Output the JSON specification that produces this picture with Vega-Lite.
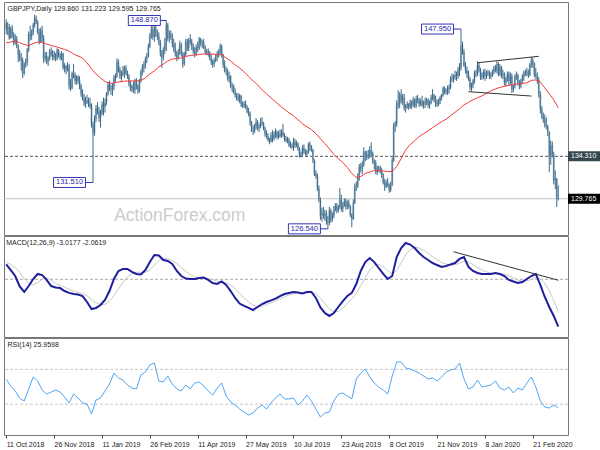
{
"$schema":"https://vega.github.io/schema/vega-lite/v6.json",
"padding":{"left":1,"top":1,"right":0,"bottom":0},
"background":"white",
"spacing":1,
"bounds":"flush",
"resolve":{"scale":{"x":"shared"}},
"config":{"view":{"stroke":"#777"},"font":"Liberation Sans",
"axis":{"labelFont":"Liberation Sans","labelFontSize":7,"labelColor":"#222","tickColor":"#444","tickSize":3,"domain":false,"grid":false,"labelPadding":1},
"title":{"anchor":"start","offset":-10,"baseline":"top","dx":4,"fontSize":7,"fontWeight":"normal","color":"#222","font":"Liberation Sans"}},
"datasets":{
"px":[
{"d":"2018-10-11","o":148.6,"h":149.0,"l":147.4,"c":147.9},{"d":"2018-10-12","o":147.9,"h":148.7,"l":147.3,"c":148.2},
{"d":"2018-10-15","o":148.2,"h":148.5,"l":146.8,"c":147.0},{"d":"2018-10-16","o":147.0,"h":148.2,"l":146.9,"c":148.0},{"d":"2018-10-17","o":148.0,"h":148.4,"l":147.0,"c":147.3},{"d":"2018-10-18","o":147.3,"h":147.6,"l":146.2,"c":146.5},{"d":"2018-10-19","o":146.5,"h":147.4,"l":146.3,"c":146.9},
{"d":"2018-10-22","o":146.9,"h":147.2,"l":145.9,"c":146.1},{"d":"2018-10-23","o":146.1,"h":146.3,"l":144.4,"c":145.2},{"d":"2018-10-24","o":145.2,"h":145.7,"l":144.5,"c":144.8},{"d":"2018-10-25","o":144.8,"h":145.4,"l":143.5,"c":144.6},{"d":"2018-10-26","o":144.6,"h":144.9,"l":142.7,"c":143.2},
{"d":"2018-10-29","o":143.2,"h":144.4,"l":143.0,"c":144.2},{"d":"2018-10-30","o":144.2,"h":144.8,"l":143.8,"c":144.3},{"d":"2018-10-31","o":144.3,"h":145.9,"l":144.0,"c":145.7},{"d":"2018-11-01","o":145.7,"h":147.7,"l":145.5,"c":147.4},{"d":"2018-11-02","o":147.4,"h":148.3,"l":146.7,"c":147.2},
{"d":"2018-11-05","o":147.2,"h":147.9,"l":146.8,"c":147.6},{"d":"2018-11-06","o":147.6,"h":148.6,"l":147.3,"c":148.4},{"d":"2018-11-07","o":148.4,"h":149.5,"l":148.1,"c":149.1},{"d":"2018-11-08","o":149.1,"h":149.4,"l":148.5,"c":148.7},{"d":"2018-11-09","o":148.7,"h":148.9,"l":147.4,"c":147.6},
{"d":"2018-11-12","o":147.6,"h":148.0,"l":146.3,"c":146.6},{"d":"2018-11-13","o":146.6,"h":148.1,"l":146.5,"c":147.8},{"d":"2018-11-14","o":147.8,"h":148.3,"l":146.6,"c":147.0},{"d":"2018-11-15","o":147.0,"h":147.3,"l":144.3,"c":144.8},{"d":"2018-11-16","o":144.8,"h":145.5,"l":144.5,"c":145.1},
{"d":"2018-11-19","o":145.1,"h":145.5,"l":144.2,"c":144.4},{"d":"2018-11-20","o":144.4,"h":145.0,"l":144.0,"c":144.7},{"d":"2018-11-21","o":144.7,"h":145.8,"l":144.6,"c":145.6},{"d":"2018-11-22","o":145.6,"h":146.0,"l":145.0,"c":145.3},{"d":"2018-11-23","o":145.3,"h":145.7,"l":144.6,"c":144.9},
{"d":"2018-11-26","o":144.9,"h":145.6,"l":144.6,"c":145.2},{"d":"2018-11-27","o":145.2,"h":145.4,"l":144.5,"c":144.8},{"d":"2018-11-28","o":144.8,"h":145.9,"l":144.6,"c":145.7},{"d":"2018-11-29","o":145.7,"h":145.8,"l":144.9,"c":145.1},{"d":"2018-11-30","o":145.1,"h":145.4,"l":144.6,"c":144.8},
{"d":"2018-12-03","o":144.8,"h":145.6,"l":144.6,"c":145.3},{"d":"2018-12-04","o":145.3,"h":145.4,"l":143.6,"c":143.8},{"d":"2018-12-05","o":143.8,"h":144.3,"l":143.3,"c":144.0},{"d":"2018-12-06","o":144.0,"h":144.1,"l":143.1,"c":143.6},{"d":"2018-12-07","o":143.6,"h":144.4,"l":143.4,"c":144.0},
{"d":"2018-12-10","o":144.0,"h":144.2,"l":141.5,"c":141.9},{"d":"2018-12-11","o":141.9,"h":142.6,"l":141.3,"c":141.6},{"d":"2018-12-12","o":141.6,"h":143.4,"l":141.5,"c":143.2},{"d":"2018-12-13","o":143.2,"h":144.2,"l":142.7,"c":143.0},{"d":"2018-12-14","o":143.0,"h":143.3,"l":142.0,"c":142.4},
{"d":"2018-12-17","o":142.4,"h":143.0,"l":142.0,"c":142.8},{"d":"2018-12-18","o":142.8,"h":143.0,"l":142.1,"c":142.4},{"d":"2018-12-19","o":142.4,"h":142.9,"l":141.5,"c":141.9},{"d":"2018-12-20","o":141.9,"h":142.1,"l":140.7,"c":141.0},{"d":"2018-12-21","o":141.0,"h":141.5,"l":140.3,"c":140.5},
{"d":"2018-12-24","o":140.5,"h":141.0,"l":139.7,"c":140.0},{"d":"2018-12-26","o":140.0,"h":140.7,"l":139.5,"c":140.3},{"d":"2018-12-27","o":140.3,"h":140.9,"l":139.9,"c":140.1},{"d":"2018-12-28","o":140.1,"h":140.6,"l":139.6,"c":139.9},
{"d":"2018-12-31","o":139.9,"h":140.6,"l":139.4,"c":139.7},{"d":"2019-01-02","o":139.7,"h":140.0,"l":137.4,"c":137.7},{"d":"2019-01-03","o":137.7,"h":138.0,"l":131.51,"c":136.8},{"d":"2019-01-04","o":136.8,"h":138.7,"l":136.5,"c":138.3},
{"d":"2019-01-07","o":138.3,"h":139.8,"l":138.0,"c":139.5},{"d":"2019-01-08","o":139.5,"h":140.1,"l":138.8,"c":139.1},{"d":"2019-01-09","o":139.1,"h":139.6,"l":138.0,"c":138.4},{"d":"2019-01-10","o":138.4,"h":139.3,"l":137.4,"c":138.9},{"d":"2019-01-11","o":138.9,"h":140.2,"l":138.7,"c":139.9},
{"d":"2019-01-14","o":139.9,"h":140.6,"l":138.7,"c":139.6},{"d":"2019-01-15","o":139.6,"h":140.5,"l":139.0,"c":140.1},{"d":"2019-01-16","o":140.1,"h":141.2,"l":139.8,"c":141.0},{"d":"2019-01-17","o":141.0,"h":142.3,"l":140.8,"c":142.0},{"d":"2019-01-18","o":142.0,"h":142.4,"l":141.3,"c":141.6},
{"d":"2019-01-21","o":141.6,"h":142.0,"l":140.9,"c":141.5},{"d":"2019-01-22","o":141.5,"h":142.1,"l":140.8,"c":141.8},{"d":"2019-01-23","o":141.8,"h":143.0,"l":141.4,"c":142.7},{"d":"2019-01-24","o":142.7,"h":143.2,"l":142.3,"c":142.9},{"d":"2019-01-25","o":142.9,"h":144.8,"l":142.7,"c":144.4},
{"d":"2019-01-28","o":144.4,"h":144.7,"l":143.3,"c":143.6},{"d":"2019-01-29","o":143.6,"h":143.9,"l":142.6,"c":142.8},{"d":"2019-01-30","o":142.8,"h":143.5,"l":142.4,"c":143.3},{"d":"2019-01-31","o":143.3,"h":144.0,"l":142.9,"c":143.1},{"d":"2019-02-01","o":143.1,"h":144.0,"l":142.7,"c":143.8},
{"d":"2019-02-04","o":143.8,"h":144.1,"l":143.0,"c":143.2},{"d":"2019-02-05","o":143.2,"h":143.5,"l":142.6,"c":142.9},{"d":"2019-02-06","o":142.9,"h":143.1,"l":141.8,"c":142.1},{"d":"2019-02-07","o":142.1,"h":142.4,"l":141.3,"c":141.6},{"d":"2019-02-08","o":141.6,"h":142.0,"l":141.2,"c":141.8},
{"d":"2019-02-11","o":141.8,"h":142.3,"l":141.1,"c":141.4},{"d":"2019-02-12","o":141.4,"h":142.6,"l":141.0,"c":142.4},{"d":"2019-02-13","o":142.4,"h":142.7,"l":141.5,"c":141.9},{"d":"2019-02-14","o":141.9,"h":142.0,"l":141.0,"c":141.3},{"d":"2019-02-15","o":141.3,"h":142.6,"l":141.1,"c":142.4},
{"d":"2019-02-18","o":142.4,"h":143.6,"l":142.2,"c":143.4},{"d":"2019-02-19","o":143.4,"h":144.2,"l":143.0,"c":143.9},{"d":"2019-02-20","o":143.9,"h":144.5,"l":143.3,"c":144.1},{"d":"2019-02-21","o":144.1,"h":145.0,"l":143.7,"c":144.7},{"d":"2019-02-22","o":144.7,"h":145.4,"l":144.3,"c":145.0},
{"d":"2019-02-25","o":145.0,"h":146.4,"l":144.9,"c":146.1},{"d":"2019-02-26","o":146.1,"h":147.5,"l":145.9,"c":147.3},{"d":"2019-02-27","o":147.3,"h":148.3,"l":146.9,"c":147.9},{"d":"2019-02-28","o":147.9,"h":148.3,"l":146.8,"c":147.1},{"d":"2019-03-01","o":147.1,"h":148.4,"l":146.6,"c":148.0},
{"d":"2019-03-04","o":148.0,"h":148.3,"l":147.1,"c":147.5},{"d":"2019-03-05","o":147.5,"h":147.9,"l":146.8,"c":147.2},{"d":"2019-03-06","o":147.2,"h":147.6,"l":146.2,"c":146.5},{"d":"2019-03-07","o":146.5,"h":146.8,"l":145.0,"c":145.4},{"d":"2019-03-08","o":145.4,"h":145.7,"l":143.8,"c":144.9},
{"d":"2019-03-11","o":144.9,"h":146.0,"l":144.6,"c":145.7},{"d":"2019-03-12","o":145.7,"h":147.0,"l":145.3,"c":146.5},{"d":"2019-03-13","o":146.5,"h":148.87,"l":145.6,"c":148.4},{"d":"2019-03-14","o":148.4,"h":148.6,"l":146.7,"c":147.0},{"d":"2019-03-15","o":147.0,"h":147.8,"l":146.5,"c":147.4},
{"d":"2019-03-18","o":147.4,"h":147.8,"l":146.8,"c":147.2},{"d":"2019-03-19","o":147.2,"h":147.5,"l":146.0,"c":146.4},{"d":"2019-03-20","o":146.4,"h":146.9,"l":145.5,"c":145.8},{"d":"2019-03-21","o":145.8,"h":146.5,"l":145.0,"c":145.3},{"d":"2019-03-22","o":145.3,"h":145.6,"l":144.5,"c":144.9},
{"d":"2019-03-25","o":144.9,"h":145.8,"l":144.7,"c":145.4},{"d":"2019-03-26","o":145.4,"h":146.7,"l":145.2,"c":146.3},{"d":"2019-03-27","o":146.3,"h":146.5,"l":145.0,"c":145.3},{"d":"2019-03-28","o":145.3,"h":145.5,"l":143.8,"c":144.2},{"d":"2019-03-29","o":144.2,"h":145.5,"l":144.0,"c":145.2},
{"d":"2019-04-01","o":145.2,"h":146.9,"l":145.0,"c":146.6},{"d":"2019-04-02","o":146.6,"h":146.9,"l":145.6,"c":145.9},{"d":"2019-04-03","o":145.9,"h":147.0,"l":145.6,"c":146.8},{"d":"2019-04-04","o":146.8,"h":147.4,"l":146.3,"c":146.6},{"d":"2019-04-05","o":146.6,"h":146.9,"l":145.7,"c":146.1},
{"d":"2019-04-08","o":146.1,"h":146.4,"l":145.3,"c":145.6},{"d":"2019-04-09","o":145.6,"h":146.0,"l":144.9,"c":145.3},{"d":"2019-04-10","o":145.3,"h":146.3,"l":145.1,"c":146.0},{"d":"2019-04-11","o":146.0,"h":146.6,"l":145.5,"c":145.9},{"d":"2019-04-12","o":145.9,"h":147.1,"l":145.7,"c":146.9},
{"d":"2019-04-15","o":146.9,"h":147.0,"l":146.1,"c":146.4},{"d":"2019-04-16","o":146.4,"h":146.8,"l":145.9,"c":146.5},{"d":"2019-04-17","o":146.5,"h":146.9,"l":145.8,"c":146.0},{"d":"2019-04-18","o":146.0,"h":146.2,"l":145.2,"c":145.5},{"d":"2019-04-19","o":145.5,"h":145.8,"l":145.2,"c":145.6},
{"d":"2019-04-22","o":145.6,"h":145.9,"l":145.0,"c":145.2},{"d":"2019-04-23","o":145.2,"h":145.6,"l":144.6,"c":144.9},{"d":"2019-04-24","o":144.9,"h":145.3,"l":144.1,"c":144.4},{"d":"2019-04-25","o":144.4,"h":144.7,"l":143.8,"c":144.2},{"d":"2019-04-26","o":144.2,"h":144.8,"l":143.9,"c":144.6},
{"d":"2019-04-29","o":144.6,"h":145.2,"l":144.4,"c":145.0},{"d":"2019-04-30","o":145.0,"h":145.6,"l":144.5,"c":145.3},{"d":"2019-05-01","o":145.3,"h":145.8,"l":144.9,"c":145.5},{"d":"2019-05-02","o":145.5,"h":146.4,"l":145.2,"c":146.1},{"d":"2019-05-03","o":146.1,"h":146.3,"l":144.9,"c":145.2},
{"d":"2019-05-06","o":145.2,"h":145.3,"l":143.8,"c":144.1},{"d":"2019-05-07","o":144.1,"h":144.6,"l":143.3,"c":143.5},{"d":"2019-05-08","o":143.5,"h":143.9,"l":143.0,"c":143.4},{"d":"2019-05-09","o":143.4,"h":143.7,"l":142.4,"c":142.6},{"d":"2019-05-10","o":142.6,"h":143.4,"l":142.2,"c":142.9},
{"d":"2019-05-13","o":142.9,"h":143.0,"l":141.6,"c":141.8},{"d":"2019-05-14","o":141.8,"h":142.2,"l":141.2,"c":141.9},{"d":"2019-05-15","o":141.9,"h":142.0,"l":141.0,"c":141.2},{"d":"2019-05-16","o":141.2,"h":141.6,"l":140.6,"c":140.9},{"d":"2019-05-17","o":140.9,"h":141.1,"l":140.3,"c":140.6},
{"d":"2019-05-20","o":140.6,"h":141.1,"l":140.2,"c":140.4},{"d":"2019-05-21","o":140.4,"h":141.0,"l":140.0,"c":140.8},{"d":"2019-05-22","o":140.8,"h":140.9,"l":139.6,"c":139.9},{"d":"2019-05-23","o":139.9,"h":140.2,"l":139.5,"c":139.7},{"d":"2019-05-24","o":139.7,"h":140.2,"l":139.5,"c":139.9},
{"d":"2019-05-27","o":139.9,"h":140.3,"l":139.4,"c":139.6},{"d":"2019-05-28","o":139.6,"h":139.8,"l":138.9,"c":139.1},{"d":"2019-05-29","o":139.1,"h":139.5,"l":138.6,"c":138.9},{"d":"2019-05-30","o":138.9,"h":139.1,"l":137.6,"c":137.9},{"d":"2019-05-31","o":137.9,"h":138.1,"l":136.9,"c":137.1},
{"d":"2019-06-03","o":137.1,"h":137.6,"l":136.6,"c":137.0},{"d":"2019-06-04","o":137.0,"h":137.8,"l":136.8,"c":137.5},{"d":"2019-06-05","o":137.5,"h":138.4,"l":137.2,"c":138.0},{"d":"2019-06-06","o":138.0,"h":138.2,"l":137.1,"c":137.4},{"d":"2019-06-07","o":137.4,"h":137.8,"l":136.9,"c":137.5},
{"d":"2019-06-10","o":137.5,"h":138.4,"l":137.3,"c":138.0},{"d":"2019-06-11","o":138.0,"h":138.5,"l":137.6,"c":137.9},{"d":"2019-06-12","o":137.9,"h":138.0,"l":137.1,"c":137.3},{"d":"2019-06-13","o":137.3,"h":137.5,"l":136.4,"c":136.7},{"d":"2019-06-14","o":136.7,"h":137.1,"l":136.2,"c":136.5},
{"d":"2019-06-17","o":136.5,"h":136.8,"l":135.9,"c":136.0},{"d":"2019-06-18","o":136.0,"h":136.3,"l":135.6,"c":135.9},{"d":"2019-06-19","o":135.9,"h":136.9,"l":135.8,"c":136.6},{"d":"2019-06-20","o":136.6,"h":137.1,"l":135.8,"c":136.2},{"d":"2019-06-21","o":136.2,"h":137.0,"l":136.0,"c":136.7},
{"d":"2019-06-24","o":136.7,"h":137.3,"l":136.3,"c":136.9},{"d":"2019-06-25","o":136.9,"h":137.1,"l":136.1,"c":136.4},{"d":"2019-06-26","o":136.4,"h":137.0,"l":136.2,"c":136.7},{"d":"2019-06-27","o":136.7,"h":137.2,"l":136.3,"c":136.5},{"d":"2019-06-28","o":136.5,"h":137.2,"l":136.3,"c":136.9},
{"d":"2019-07-01","o":136.9,"h":137.8,"l":136.4,"c":136.6},{"d":"2019-07-02","o":136.6,"h":136.8,"l":135.9,"c":136.2},{"d":"2019-07-03","o":136.2,"h":136.5,"l":135.8,"c":136.0},{"d":"2019-07-04","o":136.0,"h":136.4,"l":135.7,"c":136.1},{"d":"2019-07-05","o":136.1,"h":136.3,"l":135.3,"c":135.5},
{"d":"2019-07-08","o":135.5,"h":135.9,"l":135.2,"c":135.4},{"d":"2019-07-09","o":135.4,"h":135.7,"l":135.1,"c":135.3},{"d":"2019-07-10","o":135.3,"h":136.3,"l":134.9,"c":135.9},{"d":"2019-07-11","o":135.9,"h":136.2,"l":135.2,"c":135.5},{"d":"2019-07-12","o":135.5,"h":136.0,"l":135.3,"c":135.7},
{"d":"2019-07-15","o":135.7,"h":135.8,"l":134.9,"c":135.1},{"d":"2019-07-16","o":135.1,"h":135.3,"l":134.2,"c":134.4},{"d":"2019-07-17","o":134.4,"h":134.8,"l":134.2,"c":134.5},{"d":"2019-07-18","o":134.5,"h":135.5,"l":134.3,"c":135.2},{"d":"2019-07-19","o":135.2,"h":135.6,"l":134.6,"c":134.9},
{"d":"2019-07-22","o":134.9,"h":135.1,"l":134.4,"c":134.6},{"d":"2019-07-23","o":134.6,"h":135.0,"l":134.3,"c":134.8},{"d":"2019-07-24","o":134.8,"h":135.8,"l":134.6,"c":135.6},{"d":"2019-07-25","o":135.6,"h":135.9,"l":134.9,"c":135.4},{"d":"2019-07-26","o":135.4,"h":135.5,"l":134.8,"c":135.0},
{"d":"2019-07-29","o":135.0,"h":135.1,"l":133.6,"c":133.9},{"d":"2019-07-30","o":133.9,"h":134.0,"l":132.2,"c":132.4},{"d":"2019-07-31","o":132.4,"h":132.8,"l":131.9,"c":132.2},{"d":"2019-08-01","o":132.2,"h":132.5,"l":130.6,"c":130.9},{"d":"2019-08-02","o":130.9,"h":131.2,"l":129.4,"c":129.6},
{"d":"2019-08-05","o":129.6,"h":129.9,"l":127.5,"c":128.0},{"d":"2019-08-06","o":128.0,"h":128.8,"l":127.3,"c":128.3},{"d":"2019-08-07","o":128.3,"h":128.9,"l":127.6,"c":127.9},{"d":"2019-08-08","o":127.9,"h":128.6,"l":127.4,"c":128.2},{"d":"2019-08-09","o":128.2,"h":128.5,"l":127.0,"c":127.4},
{"d":"2019-08-12","o":127.4,"h":127.9,"l":126.54,"c":127.2},{"d":"2019-08-13","o":127.2,"h":128.9,"l":126.9,"c":128.5},{"d":"2019-08-14","o":128.5,"h":128.7,"l":127.2,"c":127.5},{"d":"2019-08-15","o":127.5,"h":128.3,"l":127.3,"c":127.9},{"d":"2019-08-16","o":127.9,"h":129.0,"l":127.7,"c":128.6},
{"d":"2019-08-19","o":128.6,"h":129.3,"l":128.4,"c":129.0},{"d":"2019-08-20","o":129.0,"h":129.3,"l":128.2,"c":128.5},{"d":"2019-08-21","o":128.5,"h":129.1,"l":128.3,"c":128.9},{"d":"2019-08-22","o":128.9,"h":130.9,"l":128.7,"c":129.7},{"d":"2019-08-23","o":129.7,"h":130.2,"l":128.4,"c":128.7},
{"d":"2019-08-26","o":128.7,"h":129.4,"l":128.3,"c":129.1},{"d":"2019-08-27","o":129.1,"h":129.8,"l":128.9,"c":129.5},{"d":"2019-08-28","o":129.5,"h":129.8,"l":128.6,"c":128.9},{"d":"2019-08-29","o":128.9,"h":129.6,"l":128.6,"c":129.3},{"d":"2019-08-30","o":129.3,"h":129.7,"l":128.7,"c":128.9},
{"d":"2019-09-02","o":128.9,"h":129.1,"l":127.8,"c":128.0},{"d":"2019-09-03","o":128.0,"h":128.2,"l":126.7,"c":127.6},{"d":"2019-09-04","o":127.6,"h":129.7,"l":127.5,"c":129.3},{"d":"2019-09-05","o":129.3,"h":131.4,"l":129.2,"c":131.0},{"d":"2019-09-06","o":131.0,"h":131.6,"l":130.6,"c":131.2},
{"d":"2019-09-09","o":131.2,"h":132.5,"l":130.9,"c":132.3},{"d":"2019-09-10","o":132.3,"h":133.5,"l":131.7,"c":133.2},{"d":"2019-09-11","o":133.2,"h":133.6,"l":132.6,"c":133.0},{"d":"2019-09-12","o":133.0,"h":133.8,"l":132.4,"c":133.4},{"d":"2019-09-13","o":133.4,"h":135.3,"l":133.2,"c":134.8},
{"d":"2019-09-16","o":134.8,"h":134.9,"l":133.8,"c":134.2},{"d":"2019-09-17","o":134.2,"h":134.9,"l":133.9,"c":134.5},{"d":"2019-09-18","o":134.5,"h":135.0,"l":134.0,"c":134.3},{"d":"2019-09-19","o":134.3,"h":135.4,"l":134.1,"c":135.0},{"d":"2019-09-20","o":135.0,"h":135.8,"l":134.3,"c":134.6},
{"d":"2019-09-23","o":134.6,"h":134.8,"l":133.5,"c":133.8},{"d":"2019-09-24","o":133.8,"h":134.0,"l":132.9,"c":133.6},{"d":"2019-09-25","o":133.6,"h":133.9,"l":132.4,"c":132.6},{"d":"2019-09-26","o":132.6,"h":133.3,"l":132.3,"c":133.1},{"d":"2019-09-27","o":133.1,"h":133.3,"l":132.6,"c":133.0},
{"d":"2019-09-30","o":133.0,"h":133.3,"l":132.5,"c":132.8},{"d":"2019-10-01","o":132.8,"h":133.1,"l":132.0,"c":132.3},{"d":"2019-10-02","o":132.3,"h":132.5,"l":131.3,"c":131.5},{"d":"2019-10-03","o":131.5,"h":131.9,"l":130.6,"c":131.1},{"d":"2019-10-04","o":131.1,"h":131.8,"l":130.9,"c":131.5},
{"d":"2019-10-07","o":131.5,"h":132.0,"l":131.0,"c":131.2},{"d":"2019-10-08","o":131.2,"h":131.4,"l":130.4,"c":130.7},{"d":"2019-10-09","o":130.7,"h":131.6,"l":130.5,"c":131.3},{"d":"2019-10-10","o":131.3,"h":134.2,"l":131.1,"c":133.9},{"d":"2019-10-11","o":133.9,"h":137.9,"l":133.7,"c":137.5},
{"d":"2019-10-14","o":137.5,"h":138.1,"l":136.9,"c":137.8},{"d":"2019-10-15","o":137.8,"h":140.3,"l":137.5,"c":140.0},{"d":"2019-10-16","o":140.0,"h":141.4,"l":139.4,"c":139.9},{"d":"2019-10-17","o":139.9,"h":141.2,"l":139.5,"c":140.9},{"d":"2019-10-18","o":140.9,"h":141.5,"l":140.0,"c":140.3},
{"d":"2019-10-21","o":140.3,"h":141.0,"l":139.8,"c":140.6},{"d":"2019-10-22","o":140.6,"h":141.0,"l":139.2,"c":139.5},{"d":"2019-10-23","o":139.5,"h":139.9,"l":139.0,"c":139.6},{"d":"2019-10-24","o":139.6,"h":140.2,"l":139.4,"c":139.9},{"d":"2019-10-25","o":139.9,"h":140.0,"l":139.3,"c":139.6},
{"d":"2019-10-28","o":139.6,"h":140.4,"l":139.4,"c":140.1},{"d":"2019-10-29","o":140.1,"h":140.3,"l":139.4,"c":139.8},{"d":"2019-10-30","o":139.8,"h":140.7,"l":139.6,"c":140.4},{"d":"2019-10-31","o":140.4,"h":140.5,"l":139.5,"c":139.7},{"d":"2019-11-01","o":139.7,"h":140.8,"l":139.5,"c":140.5},
{"d":"2019-11-04","o":140.5,"h":140.9,"l":140.0,"c":140.3},{"d":"2019-11-05","o":140.3,"h":140.6,"l":139.6,"c":139.9},{"d":"2019-11-06","o":139.9,"h":140.5,"l":139.7,"c":140.2},{"d":"2019-11-07","o":140.2,"h":140.8,"l":139.6,"c":139.8},{"d":"2019-11-08","o":139.8,"h":140.3,"l":139.4,"c":140.0},
{"d":"2019-11-11","o":140.0,"h":140.6,"l":139.5,"c":140.2},{"d":"2019-11-12","o":140.2,"h":140.6,"l":139.8,"c":140.4},{"d":"2019-11-13","o":140.4,"h":140.5,"l":139.5,"c":139.8},{"d":"2019-11-14","o":139.8,"h":140.3,"l":139.4,"c":140.0},{"d":"2019-11-15","o":140.0,"h":140.9,"l":139.9,"c":140.6},
{"d":"2019-11-18","o":140.6,"h":141.5,"l":140.3,"c":140.9},{"d":"2019-11-19","o":140.9,"h":141.0,"l":140.1,"c":140.4},{"d":"2019-11-20","o":140.4,"h":140.8,"l":139.6,"c":140.1},{"d":"2019-11-21","o":140.1,"h":140.4,"l":139.6,"c":139.9},{"d":"2019-11-22","o":139.9,"h":140.5,"l":139.7,"c":140.2},
{"d":"2019-11-25","o":140.2,"h":140.8,"l":139.9,"c":140.6},{"d":"2019-11-26","o":140.6,"h":141.0,"l":140.3,"c":140.9},{"d":"2019-11-27","o":140.9,"h":141.8,"l":140.7,"c":141.6},{"d":"2019-11-28","o":141.6,"h":141.8,"l":141.0,"c":141.2},{"d":"2019-11-29","o":141.2,"h":141.6,"l":140.9,"c":141.3},
{"d":"2019-12-02","o":141.3,"h":141.9,"l":140.9,"c":141.5},{"d":"2019-12-03","o":141.5,"h":142.0,"l":141.0,"c":141.7},{"d":"2019-12-04","o":141.7,"h":142.9,"l":141.5,"c":142.6},{"d":"2019-12-05","o":142.6,"h":143.2,"l":142.3,"c":142.7},{"d":"2019-12-06","o":142.7,"h":143.1,"l":142.2,"c":142.8},
{"d":"2019-12-09","o":142.8,"h":143.5,"l":142.5,"c":143.0},{"d":"2019-12-10","o":143.0,"h":143.4,"l":142.4,"c":142.9},{"d":"2019-12-11","o":142.9,"h":143.9,"l":142.6,"c":143.5},{"d":"2019-12-12","o":143.5,"h":144.3,"l":142.9,"c":143.8},{"d":"2019-12-13","o":143.8,"h":147.95,"l":143.5,"c":146.2},
{"d":"2019-12-16","o":146.2,"h":146.6,"l":145.2,"c":145.5},{"d":"2019-12-17","o":145.5,"h":145.8,"l":143.9,"c":144.0},{"d":"2019-12-18","o":144.0,"h":144.4,"l":143.2,"c":143.5},{"d":"2019-12-19","o":143.5,"h":143.9,"l":142.7,"c":143.1},{"d":"2019-12-20","o":143.1,"h":143.5,"l":142.4,"c":142.6},
{"d":"2019-12-23","o":142.6,"h":142.8,"l":141.4,"c":141.7},{"d":"2019-12-24","o":141.7,"h":142.2,"l":141.3,"c":141.9},{"d":"2019-12-26","o":141.9,"h":142.6,"l":141.6,"c":142.4},{"d":"2019-12-27","o":142.4,"h":143.5,"l":142.1,"c":143.2},
{"d":"2019-12-30","o":143.2,"h":143.6,"l":142.8,"c":143.1},{"d":"2019-12-31","o":143.1,"h":144.5,"l":142.9,"c":144.1},{"d":"2020-01-02","o":144.1,"h":144.4,"l":143.3,"c":143.6},{"d":"2020-01-03","o":143.6,"h":143.8,"l":142.5,"c":142.8},
{"d":"2020-01-06","o":142.8,"h":143.3,"l":142.5,"c":143.0},{"d":"2020-01-07","o":143.0,"h":143.6,"l":142.6,"c":143.3},{"d":"2020-01-08","o":143.3,"h":143.7,"l":142.4,"c":142.9},{"d":"2020-01-09","o":142.9,"h":143.5,"l":142.6,"c":143.2},{"d":"2020-01-10","o":143.2,"h":143.6,"l":142.9,"c":143.3},
{"d":"2020-01-13","o":143.3,"h":143.5,"l":142.6,"c":142.9},{"d":"2020-01-14","o":142.9,"h":143.3,"l":142.6,"c":143.0},{"d":"2020-01-15","o":143.0,"h":143.6,"l":142.8,"c":143.4},{"d":"2020-01-16","o":143.4,"h":144.0,"l":143.1,"c":143.8},{"d":"2020-01-17","o":143.8,"h":144.1,"l":143.3,"c":143.5},
{"d":"2020-01-20","o":143.5,"h":144.5,"l":143.2,"c":144.2},{"d":"2020-01-21","o":144.2,"h":144.4,"l":142.9,"c":143.1},{"d":"2020-01-22","o":143.1,"h":144.2,"l":142.9,"c":143.9},{"d":"2020-01-23","o":143.9,"h":144.0,"l":142.7,"c":143.0},{"d":"2020-01-24","o":143.0,"h":143.6,"l":142.6,"c":143.2},
{"d":"2020-01-27","o":143.2,"h":143.3,"l":141.9,"c":142.2},{"d":"2020-01-28","o":142.2,"h":142.8,"l":141.8,"c":142.6},{"d":"2020-01-29","o":142.6,"h":143.4,"l":142.3,"c":143.1},{"d":"2020-01-30","o":143.1,"h":143.4,"l":141.9,"c":142.4},{"d":"2020-01-31","o":142.4,"h":143.3,"l":142.0,"c":142.9},
{"d":"2020-02-03","o":142.9,"h":143.2,"l":141.1,"c":141.5},{"d":"2020-02-04","o":141.5,"h":142.0,"l":141.2,"c":141.8},{"d":"2020-02-05","o":141.8,"h":143.1,"l":141.6,"c":142.9},{"d":"2020-02-06","o":142.9,"h":143.4,"l":142.5,"c":143.0},{"d":"2020-02-07","o":143.0,"h":143.2,"l":141.9,"c":142.2},
{"d":"2020-02-10","o":142.2,"h":142.5,"l":141.5,"c":141.9},{"d":"2020-02-11","o":141.9,"h":142.6,"l":141.6,"c":142.4},{"d":"2020-02-12","o":142.4,"h":143.1,"l":142.1,"c":142.8},{"d":"2020-02-13","o":142.8,"h":143.5,"l":142.4,"c":143.3},{"d":"2020-02-14","o":143.3,"h":143.6,"l":142.9,"c":143.2},
{"d":"2020-02-17","o":143.2,"h":143.8,"l":142.9,"c":143.4},{"d":"2020-02-18","o":143.4,"h":143.6,"l":142.7,"c":143.0},{"d":"2020-02-19","o":143.0,"h":144.3,"l":142.9,"c":144.1},{"d":"2020-02-20","o":144.1,"h":144.96,"l":143.8,"c":144.6},{"d":"2020-02-21","o":144.6,"h":144.9,"l":143.8,"c":144.3},
{"d":"2020-02-24","o":144.3,"h":144.4,"l":142.8,"c":143.1},{"d":"2020-02-25","o":143.1,"h":143.8,"l":142.6,"c":142.9},{"d":"2020-02-26","o":142.9,"h":143.3,"l":142.1,"c":142.5},{"d":"2020-02-27","o":142.5,"h":142.8,"l":140.6,"c":141.0},{"d":"2020-02-28","o":141.0,"h":141.3,"l":138.9,"c":139.4},
{"d":"2020-03-02","o":139.4,"h":139.7,"l":138.3,"c":138.7},{"d":"2020-03-03","o":138.7,"h":139.0,"l":137.9,"c":138.3},{"d":"2020-03-04","o":138.3,"h":138.8,"l":137.4,"c":137.7},{"d":"2020-03-05","o":137.7,"h":138.5,"l":137.2,"c":137.5},{"d":"2020-03-06","o":137.5,"h":137.7,"l":136.5,"c":136.9},
{"d":"2020-03-09","o":136.9,"h":137.0,"l":132.6,"c":134.2},{"d":"2020-03-10","o":134.2,"h":136.0,"l":133.4,"c":135.5},{"d":"2020-03-11","o":135.5,"h":135.9,"l":134.2,"c":134.5},{"d":"2020-03-12","o":134.5,"h":134.8,"l":131.3,"c":131.7},{"d":"2020-03-13","o":131.7,"h":132.8,"l":130.8,"c":131.9},
{"d":"2020-03-16","o":131.9,"h":132.0,"l":128.9,"c":129.9},{"d":"2020-03-17","o":129.86,"h":131.223,"l":129.595,"c":129.765}
],
"ind":[
{"d":"2018-10-11","ma":146.48,"m":0.95,"s":1.1,"r":58.6},{"d":"2018-10-16","ma":146.56,"m":0.59,"s":0.95,"r":50.9},{"d":"2018-10-19","ma":146.66,"m":0.21,"s":0.75,"r":45.2},{"d":"2018-10-24","ma":146.5,"m":-0.46,"s":0.45,"r":37.1},{"d":"2018-10-29","ma":146.29,"m":-0.81,"s":0.05,"r":33.7},{"d":"2018-11-01","ma":146.18,"m":-0.43,"s":-0.25,"r":47.5},{"d":"2018-11-06","ma":146.4,"m":0.02,"s":-0.35,"r":61.3},{"d":"2018-11-09","ma":146.56,"m":0.34,"s":-0.2,"r":56.7},{"d":"2018-11-14","ma":146.5,"m":0.27,"s":0.0,"r":46.3},{"d":"2018-11-19","ma":146.34,"m":-0.04,"s":0.1,"r":41.7},{"d":"2018-11-22","ma":146.18,"m":-0.43,"s":-0.05,"r":44.0},{"d":"2018-11-27","ma":146.08,"m":-0.52,"s":-0.25,"r":46.3},{"d":"2018-11-30","ma":145.92,"m":-0.56,"s":-0.4,"r":44.0},{"d":"2018-12-05","ma":145.76,"m":-0.75,"s":-0.5,"r":38.3},{"d":"2018-12-10","ma":145.59,"m":-0.87,"s":-0.65,"r":31.4},{"d":"2018-12-13","ma":145.28,"m":-0.94,"s":-0.75,"r":41.7},{"d":"2018-12-18","ma":145.06,"m":-0.97,"s":-0.85,"r":37.1},{"d":"2018-12-21","ma":144.85,"m":-1.07,"s":-0.92,"r":31.4},{"d":"2018-12-27","ma":144.32,"m":-1.45,"s":-1.05,"r":30.2},{"d":"2019-01-02","ma":143.68,"m":-1.9,"s":-1.3,"r":18.7},{"d":"2019-01-07","ma":143.14,"m":-1.83,"s":-1.5,"r":34.8},{"d":"2019-01-10","ma":142.71,"m":-1.64,"s":-1.62,"r":37.1},{"d":"2019-01-15","ma":142.34,"m":-1.32,"s":-1.6,"r":45.2},{"d":"2019-01-18","ma":142.13,"m":-0.75,"s":-1.4,"r":53.2},{"d":"2019-01-23","ma":142.18,"m":0.02,"s":-1.05,"r":65.9},{"d":"2019-01-28","ma":142.29,"m":0.53,"s":-0.6,"r":60.1},{"d":"2019-01-31","ma":142.34,"m":0.66,"s":-0.2,"r":57.8},{"d":"2019-02-05","ma":142.39,"m":0.66,"s":0.15,"r":52.1},{"d":"2019-02-08","ma":142.39,"m":0.47,"s":0.35,"r":48.6},{"d":"2019-02-13","ma":142.39,"m":0.34,"s":0.45,"r":47.5},{"d":"2019-02-18","ma":142.45,"m":0.31,"s":0.45,"r":63.6},{"d":"2019-02-21","ma":142.71,"m":0.59,"s":0.45,"r":67.0},{"d":"2019-02-26","ma":143.14,"m":1.1,"s":0.6,"r":75.1},{"d":"2019-03-01","ma":143.46,"m":1.55,"s":0.9,"r":77.4},{"d":"2019-03-06","ma":143.89,"m":1.52,"s":1.2,"r":56.7},{"d":"2019-03-11","ma":144.21,"m":1.23,"s":1.35,"r":55.5},{"d":"2019-03-14","ma":144.53,"m":1.17,"s":1.3,"r":62.4},{"d":"2019-03-19","ma":144.74,"m":0.98,"s":1.2,"r":53.2},{"d":"2019-03-22","ma":144.8,"m":0.53,"s":1.0,"r":47.5},{"d":"2019-03-27","ma":144.85,"m":0.21,"s":0.75,"r":45.2},{"d":"2019-04-01","ma":145.01,"m":0.05,"s":0.5,"r":52.1},{"d":"2019-04-04","ma":145.12,"m":0.02,"s":0.3,"r":47.5},{"d":"2019-04-09","ma":145.17,"m":0.02,"s":0.15,"r":54.4},{"d":"2019-04-12","ma":145.22,"m":0.08,"s":0.08,"r":55.5},{"d":"2019-04-17","ma":145.28,"m":0.11,"s":0.06,"r":50.9},{"d":"2019-04-22","ma":145.28,"m":-0.04,"s":0.05,"r":45.2},{"d":"2019-04-25","ma":145.28,"m":-0.24,"s":-0.02,"r":40.6},{"d":"2019-04-30","ma":145.22,"m":-0.3,"s":-0.12,"r":48.6},{"d":"2019-05-03","ma":145.17,"m":-0.14,"s":-0.18,"r":54.4},{"d":"2019-05-08","ma":144.85,"m":-0.36,"s":-0.22,"r":39.4},{"d":"2019-05-13","ma":144.53,"m":-0.75,"s":-0.35,"r":32.5},{"d":"2019-05-16","ma":144.1,"m":-1.19,"s":-0.6,"r":29.1},{"d":"2019-05-21","ma":143.78,"m":-1.55,"s":-0.9,"r":24.5},{"d":"2019-05-24","ma":143.36,"m":-1.7,"s":-1.2,"r":21.0},{"d":"2019-05-29","ma":142.87,"m":-1.83,"s":-1.45,"r":17.6},{"d":"2019-06-03","ma":142.39,"m":-1.96,"s":-1.65,"r":19.9},{"d":"2019-06-06","ma":141.97,"m":-1.77,"s":-1.75,"r":25.6},{"d":"2019-06-11","ma":141.43,"m":-1.58,"s":-1.72,"r":29.1},{"d":"2019-06-14","ma":141.01,"m":-1.45,"s":-1.62,"r":24.5},{"d":"2019-06-19","ma":140.58,"m":-1.35,"s":-1.5,"r":31.4},{"d":"2019-06-24","ma":140.15,"m":-1.23,"s":-1.38,"r":37.1},{"d":"2019-06-27","ma":139.73,"m":-1.07,"s":-1.25,"r":41.7},{"d":"2019-07-02","ma":139.35,"m":-0.94,"s":-1.12,"r":36.0},{"d":"2019-07-05","ma":138.98,"m":-0.87,"s":-1.0,"r":36.0},{"d":"2019-07-10","ma":138.66,"m":-0.81,"s":-0.92,"r":37.1},{"d":"2019-07-15","ma":138.23,"m":-0.84,"s":-0.87,"r":29.1},{"d":"2019-07-18","ma":137.8,"m":-0.91,"s":-0.86,"r":33.7},{"d":"2019-07-23","ma":137.48,"m":-0.81,"s":-0.85,"r":40.6},{"d":"2019-07-26","ma":137.17,"m":-0.81,"s":-0.84,"r":33.7},{"d":"2019-07-31","ma":136.74,"m":-1.19,"s":-0.92,"r":24.5},{"d":"2019-08-05","ma":136.2,"m":-1.8,"s":-1.2,"r":15.3},{"d":"2019-08-08","ma":135.67,"m":-2.15,"s":-1.55,"r":19.9},{"d":"2019-08-13","ma":135.14,"m":-2.34,"s":-1.9,"r":21.0},{"d":"2019-08-16","ma":134.5,"m":-2.15,"s":-2.1,"r":33.7},{"d":"2019-08-21","ma":134.07,"m":-1.77,"s":-2.05,"r":41.7},{"d":"2019-08-26","ma":133.64,"m":-1.39,"s":-1.85,"r":42.9},{"d":"2019-08-29","ma":133.11,"m":-1.07,"s":-1.55,"r":39.4},{"d":"2019-09-03","ma":132.47,"m":-0.87,"s":-1.25,"r":36.0},{"d":"2019-09-06","ma":132.04,"m":-0.3,"s":-0.9,"r":59.0},{"d":"2019-09-11","ma":132.15,"m":0.53,"s":-0.4,"r":65.9},{"d":"2019-09-16","ma":132.47,"m":1.1,"s":0.1,"r":70.5},{"d":"2019-09-19","ma":132.63,"m":1.36,"s":0.6,"r":61.3},{"d":"2019-09-24","ma":132.79,"m":1.1,"s":0.9,"r":54.4},{"d":"2019-09-27","ma":132.79,"m":0.72,"s":0.95,"r":49.8},{"d":"2019-10-02","ma":132.74,"m":0.34,"s":0.8,"r":46.3},{"d":"2019-10-07","ma":132.68,"m":0.02,"s":0.55,"r":41.7},{"d":"2019-10-10","ma":132.68,"m":0.21,"s":0.35,"r":62.4},{"d":"2019-10-15","ma":133.22,"m":1.42,"s":0.55,"r":78.5},{"d":"2019-10-18","ma":134.07,"m":2.0,"s":1.05,"r":78.5},{"d":"2019-10-23","ma":135.03,"m":2.32,"s":1.55,"r":71.6},{"d":"2019-10-28","ma":135.56,"m":2.22,"s":1.9,"r":70.5},{"d":"2019-10-31","ma":135.99,"m":2.0,"s":2.05,"r":68.2},{"d":"2019-11-05","ma":136.42,"m":1.68,"s":2.0,"r":65.9},{"d":"2019-11-08","ma":136.74,"m":1.42,"s":1.85,"r":62.4},{"d":"2019-11-13","ma":137.06,"m":1.23,"s":1.65,"r":59.0},{"d":"2019-11-18","ma":137.38,"m":1.04,"s":1.45,"r":60.1},{"d":"2019-11-21","ma":137.7,"m":0.91,"s":1.25,"r":56.7},{"d":"2019-11-26","ma":138.02,"m":0.79,"s":1.08,"r":61.3},{"d":"2019-11-29","ma":138.29,"m":0.85,"s":0.97,"r":67.0},{"d":"2019-12-04","ma":138.66,"m":0.95,"s":0.92,"r":69.3},{"d":"2019-12-09","ma":139.03,"m":1.04,"s":0.93,"r":70.5},{"d":"2019-12-12","ma":139.41,"m":1.3,"s":1.02,"r":77.4},{"d":"2019-12-17","ma":139.83,"m":1.42,"s":1.15,"r":59.0},{"d":"2019-12-20","ma":140.1,"m":0.79,"s":1.1,"r":47.5},{"d":"2019-12-26","ma":140.37,"m":0.53,"s":0.95,"r":49.8},{"d":"2019-12-31","ma":140.58,"m":0.4,"s":0.75,"r":57.8},{"d":"2020-01-06","ma":140.79,"m":0.34,"s":0.6,"r":49.8},{"d":"2020-01-09","ma":141.06,"m":0.34,"s":0.47,"r":50.9},{"d":"2020-01-14","ma":141.33,"m":0.34,"s":0.4,"r":52.1},{"d":"2020-01-17","ma":141.54,"m":0.4,"s":0.37,"r":56.7},{"d":"2020-01-22","ma":141.7,"m":0.34,"s":0.35,"r":48.6},{"d":"2020-01-27","ma":141.81,"m":0.21,"s":0.33,"r":46.3},{"d":"2020-01-30","ma":141.91,"m":-0.04,"s":0.22,"r":49.8},{"d":"2020-02-04","ma":142.02,"m":-0.14,"s":0.08,"r":42.9},{"d":"2020-02-07","ma":142.07,"m":-0.24,"s":-0.05,"r":48.6},{"d":"2020-02-12","ma":142.13,"m":-0.17,"s":-0.12,"r":46.3},{"d":"2020-02-17","ma":142.18,"m":0.02,"s":-0.1,"r":54.4},{"d":"2020-02-20","ma":142.45,"m":0.21,"s":0.0,"r":61.3},{"d":"2020-02-25","ma":142.5,"m":0.34,"s":0.12,"r":49.8},{"d":"2020-02-28","ma":142.29,"m":-0.36,"s":0.05,"r":33.7},{"d":"2020-03-04","ma":141.65,"m":-1.13,"s":-0.25,"r":26.8},{"d":"2020-03-09","ma":141.01,"m":-1.77,"s":-0.75,"r":25.6},{"d":"2020-03-12","ma":140.37,"m":-2.34,"s":-1.35,"r":29.1},{"d":"2020-03-17","ma":139.51,"m":-3.0177,"s":-2.0619,"r":25.9598}
],
"chan":[{"d":"2019-12-31","p":144.34,"g":"upper"},{"d":"2020-02-27","p":145.03,"g":"upper"},{"d":"2019-12-20","p":141.24,"g":"lower"},{"d":"2020-02-20","p":140.77,"g":"lower"}],
"ann":[{"bx":"2018-12-26","bd":"2019-01-03","p":131.51,"t":"131.510"},{"bx":"2019-03-07","bd":"2019-03-13","p":148.87,"t":"148.870"},{"bx":"2019-08-05","bd":"2019-08-12","p":126.54,"t":"126.540"},{"bx":"2019-12-06","bd":"2019-12-13","p":147.95,"t":"147.950"}],
"tags":[{"p":134.31,"t":"134.310","k":"level"},{"p":129.765,"t":"129.765","k":"close"}],
"mtl":[{"d":"2019-12-06","v":1.76},{"d":"2020-03-17","v":-0.06}]
},
"vconcat":[
{"width":564,"height":233,
"title":{"text":"GBPJPY,Daily  129.860 131.223 129.595 129.765"},
"layer":[
{"data":{"values":[{"d":"2019-03-26","p":127.91,"t":"ActionForex.com"}]},"mark":{"type":"text","fontSize":17.5,"color":"#cccccc","font":"Liberation Sans","baseline":"middle"},
"encoding":{"x":{"field":"d","type":"ordinal","sort":"ascending","scale":{"type":"point","range":[1.5,555]},"axis":null},"y":{"field":"p","type":"quantitative","scale":{"domain":[125.88,150.85],"nice":false,"zero":false},"axis":null},"text":{"field":"t"}}},
{"data":{"values":[{"p":134.31}]},"mark":{"type":"rule","color":"#555","strokeDash":[3,2],"strokeWidth":1},"encoding":{"y":{"field":"p","type":"quantitative","axis":null}}},
{"data":{"values":[{"p":129.765}]},"mark":{"type":"rule","color":"#c4c4c4","strokeWidth":1},"encoding":{"y":{"field":"p","type":"quantitative","axis":null}}},
{"data":{"name":"px"},"mark":{"type":"rule","color":"#a7c0d2","strokeWidth":2},
"encoding":{"x":{"field":"d","type":"ordinal","sort":"ascending","scale":{"type":"point","range":[1.5,555]},"axis":null},"y":{"field":"o","type":"quantitative","axis":null},"y2":{"field":"c"}}},
{"data":{"name":"px"},"mark":{"type":"rule","color":"#3b6887","strokeWidth":1},
"encoding":{"x":{"field":"d","type":"ordinal","sort":"ascending","scale":{"type":"point","range":[1.5,555]},"axis":null},
"y":{"field":"l","type":"quantitative","title":null,"axis":{"orient":"right","values":[126.195,128.82,131.445,136.77,139.395,142.02,144.645,147.345,149.97],"format":".3f","labelOverlap":false}},"y2":{"field":"h"}}},
{"data":{"name":"ind"},"mark":{"type":"line","color":"#f23a3a","strokeWidth":1},
"encoding":{"x":{"field":"d","type":"ordinal","sort":"ascending","scale":{"type":"point","range":[1.5,555]},"axis":null},"y":{"field":"ma","type":"quantitative","axis":null}}},
{"data":{"name":"chan"},"mark":{"type":"line","color":"#333","strokeWidth":1},
"encoding":{"x":{"field":"d","type":"ordinal","sort":"ascending","scale":{"type":"point","range":[1.5,555]},"axis":null},"y":{"field":"p","type":"quantitative","axis":null},"detail":{"field":"g"}}},
{"data":{"name":"ann"},"mark":{"type":"rule","color":"#3434b4","strokeWidth":1},
"encoding":{"x":{"field":"bx","type":"ordinal","sort":"ascending","scale":{"type":"point","range":[1.5,555]},"axis":null},"x2":{"field":"bd"},"y":{"field":"p","type":"quantitative","axis":null}}},
{"data":{"name":"ann"},"mark":{"type":"rect","fill":"white","stroke":"#3434b4","strokeWidth":1,"xOffset":-32,"yOffset":-5,"y2Offset":5},
"encoding":{"x":{"field":"bx","type":"ordinal","sort":"ascending","scale":{"type":"point","range":[1.5,555]},"axis":null},"x2":{"field":"bx"},"y":{"field":"p","type":"quantitative","axis":null},"y2":{"field":"p"}}},
{"data":{"name":"ann"},"mark":{"type":"text","fontSize":7.5,"color":"#2a2aa6","dx":-16,"align":"center","baseline":"middle"},
"encoding":{"x":{"field":"bx","type":"ordinal","sort":"ascending","scale":{"type":"point","range":[1.5,555]},"axis":null},"y":{"field":"p","type":"quantitative","axis":null},"text":{"field":"t"}}},
{"data":{"name":"tags"},"mark":{"type":"rect","x2Offset":33,"yOffset":-5,"y2Offset":5},
"encoding":{"x":{"value":"width"},"x2":{"value":"width"},"y":{"field":"p","type":"quantitative","axis":null},"y2":{"field":"p"},"color":{"field":"k","type":"nominal","scale":{"domain":["level","close"],"range":["#34484e","#000000"]},"legend":null}}},
{"data":{"name":"tags"},"mark":{"type":"text","fontSize":7,"color":"white","dx":3,"align":"left","baseline":"middle"},
"encoding":{"x":{"value":"width"},"y":{"field":"p","type":"quantitative","axis":null},"text":{"field":"t"}}}
]},
{"width":564,"height":101,
"title":{"text":"MACD(12,26,9) -3.0177 -2.0619"},
"layer":[
{"data":{"values":[{"v":0}]},"mark":{"type":"rule","color":"#aaa","strokeDash":[3,2],"strokeWidth":1},"encoding":{"y":{"field":"v","type":"quantitative","scale":{"domain":[-3.685,2.765],"nice":false,"zero":false},"axis":null}}},
{"data":{"name":"ind"},"mark":{"type":"line","color":"#c8c8c8","strokeWidth":1},
"encoding":{"x":{"field":"d","type":"ordinal","sort":"ascending","scale":{"type":"point","range":[1.5,555]},"axis":null},"y":{"field":"s","type":"quantitative","axis":null}}},
{"data":{"name":"ind"},"mark":{"type":"line","color":"#1e1e9e","strokeWidth":2},
"encoding":{"x":{"field":"d","type":"ordinal","sort":"ascending","scale":{"type":"point","range":[1.5,555]},"axis":null},"y":{"field":"m","type":"quantitative","title":null,"axis":{"orient":"right","values":[2.4073,0,-3.276],"labelExpr":"datum.value == 0 ? '0.00' : format(datum.value, '.4~f')","labelOverlap":false}}}},
{"data":{"name":"mtl"},"mark":{"type":"line","color":"#333","strokeWidth":1},
"encoding":{"x":{"field":"d","type":"ordinal","sort":"ascending","scale":{"type":"point","range":[1.5,555]},"axis":null},"y":{"field":"v","type":"quantitative","axis":null}}}
]},
{"width":564,"height":97,
"title":{"text":"RSI(14) 25.9598"},
"layer":[
{"data":{"values":[{"v":70},{"v":30}]},"mark":{"type":"rule","color":"#c8c8c8","strokeDash":[3,2],"strokeWidth":1},"encoding":{"y":{"field":"v","type":"quantitative","scale":{"domain":[-5.4,106.1],"nice":false,"zero":false},"axis":null}}},
{"data":{"name":"ind"},"mark":{"type":"line","color":"#4ea6f5","strokeWidth":1},
"encoding":{"x":{"field":"d","type":"ordinal","sort":"ascending","scale":{"type":"point","range":[1.5,555]},"title":null,
"axis":{"values":["2018-10-11","2018-11-26","2019-01-11","2019-02-26","2019-04-11","2019-05-27","2019-07-10","2019-08-23","2019-10-08","2019-11-21","2020-01-08","2020-02-21"],"labelExpr":"utcFormat(toDate(datum.value), '%-d %b %Y')","labelAlign":"left","labelAngle":0,"labelPadding":2,"labelOverlap":false,"labelBound":false,"labelFlush":false}},
"y":{"field":"r","type":"quantitative","title":null,"axis":{"orient":"right","values":[0,30,70,100],"format":"d","labelOverlap":false}}}}
]}
]
}
